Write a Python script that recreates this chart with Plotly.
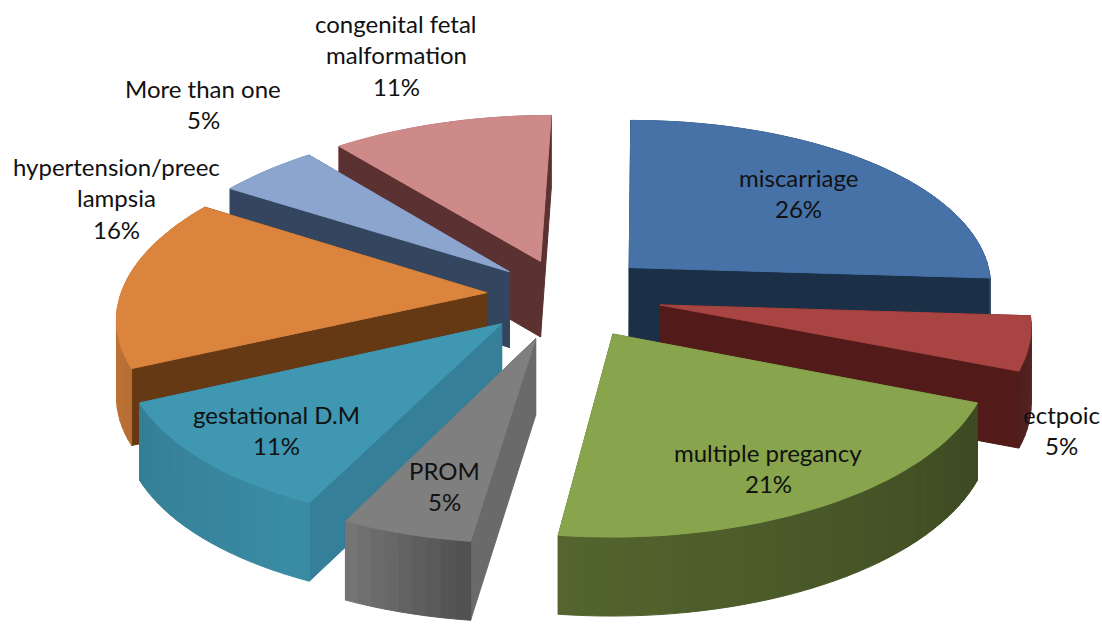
import numpy as np
import plotly.graph_objects as go

# ---- data ----
categories = ["miscarriage", "ectpoic", "multiple pregancy", "PROM", "gestational D.M",
              "hypertension/preec<br>lampsia", "More than one", "congenital fetal<br>malformation"]
values = [26, 5, 21, 5, 11, 16, 5, 11]

# ---- styles ----
top_colors = ["#4672A8", "#A84442", "#88A44C", "#7F7F7F", "#3F97B2", "#DB843D", "#8CA5CE", "#CD8A89"]
wall_colors = ["#1B3047", "#521B19", "#4B5D2B", "#6A6A6A", "#357F99", "#653914", "#34465F", "#5C3131"]
explode = [0.24, 0.265, 0.26, 0.26, 0.235, 0.215, 0.21, 0.215]
label_anchor = [(798, 177), (1061, 414), (768, 452), (444, 470), (276, 414), (116, 166), (203, 88), (396, 23)]

# ---- projection settings ----
CX, CY = 565, 295
A, B, D = 366, 170, 76
P = 0.115
SHEAR = 8
LINE_H = 31.5
STEP = 2.0  # degrees per rim segment


def project(X, Y, Z=0.0):
    w = 1 + P * Y
    return CX + A * X / w + SHEAR * Y, CY - B * Y / w + D * Z / (w ** 0.25)


def rim_factor(theta):
    return float(np.interp(theta, [90, 112, 187, 205, 245, 300, 360],
                           [0.62, 0.45, 0.62, 0.93, 0.84, 0.98, 0.8]))


def shade(hex_color, f):
    rgb = [int(hex_color[i:i + 2], 16) for i in (1, 3, 5)]
    return "rgb({},{},{})".format(*[int(min(255, c * f)) for c in rgb])


def add_poly(fig, pts, color):
    xs, ys = zip(*pts)
    fig.add_trace(go.Scatter(x=list(xs) + [xs[0]], y=list(ys) + [ys[0]], mode="lines",
                             fill="toself", fillcolor=color,
                             line=dict(color=color, width=1),
                             hoverinfo="skip", showlegend=False))


fig = go.Figure()

total = sum(values)
edges = np.cumsum([0] + values) / total * 360.0
slices = []
for i, v in enumerate(values):
    t0, t1 = edges[i], edges[i + 1]
    m = np.radians((t0 + t1) / 2)
    ox, oy = explode[i] * np.sin(m), explode[i] * np.cos(m)
    slices.append((oy, i, t0, t1, ox))

# far slices first
for oy, i, t0, t1, ox in sorted(slices, key=lambda s: -s[0]):
    thetas = np.append(np.arange(t0, t1, STEP), t1)
    ground = [(ox + np.sin(np.radians(t)), oy + np.cos(np.radians(t))) for t in thetas]
    faces = []
    # rim wall quads
    for k in range(len(ground) - 1):
        a, b = ground[k], ground[k + 1]
        col = shade(top_colors[i], rim_factor((thetas[k] + thetas[k + 1]) / 2))
        quad = [project(*a), project(*b), project(b[0], b[1], 1), project(a[0], a[1], 1)]
        faces.append(((a[1] + b[1]) / 2, quad, col))
    # radial walls
    for g in (ground[0], ground[-1]):
        quad = [project(ox, oy), project(*g), project(g[0], g[1], 1), project(ox, oy, 1)]
        faces.append(((oy + g[1]) / 2, quad, wall_colors[i]))
    for _, quad, col in sorted(faces, key=lambda f: -f[0]):
        add_poly(fig, quad, col)
    # top face
    add_poly(fig, [project(ox, oy)] + [project(*g) for g in ground], top_colors[i])

# labels
for name, v, (lx, ly) in zip(categories, values, label_anchor):
    lines = name.split("<br>") + [f"{v}%"]
    for n, line in enumerate(lines):
        fig.add_annotation(x=lx, y=ly + n * LINE_H, text=line, showarrow=False,
                           xanchor="center", yanchor="middle",
                           font=dict(family="Lato", size=24, color="#111111"))

fig.update_xaxes(range=[0, 1102], visible=False, fixedrange=True)
fig.update_yaxes(range=[624, 0], visible=False, fixedrange=True)
fig.update_layout(width=1102, height=624, margin=dict(l=0, r=0, t=0, b=0),
                  paper_bgcolor="white", plot_bgcolor="white", showlegend=False)
fig.write_html("out.html", config={"displayModeBar": False},
               post_script="document.body.style.margin='0';document.body.style.overflow='hidden';")
